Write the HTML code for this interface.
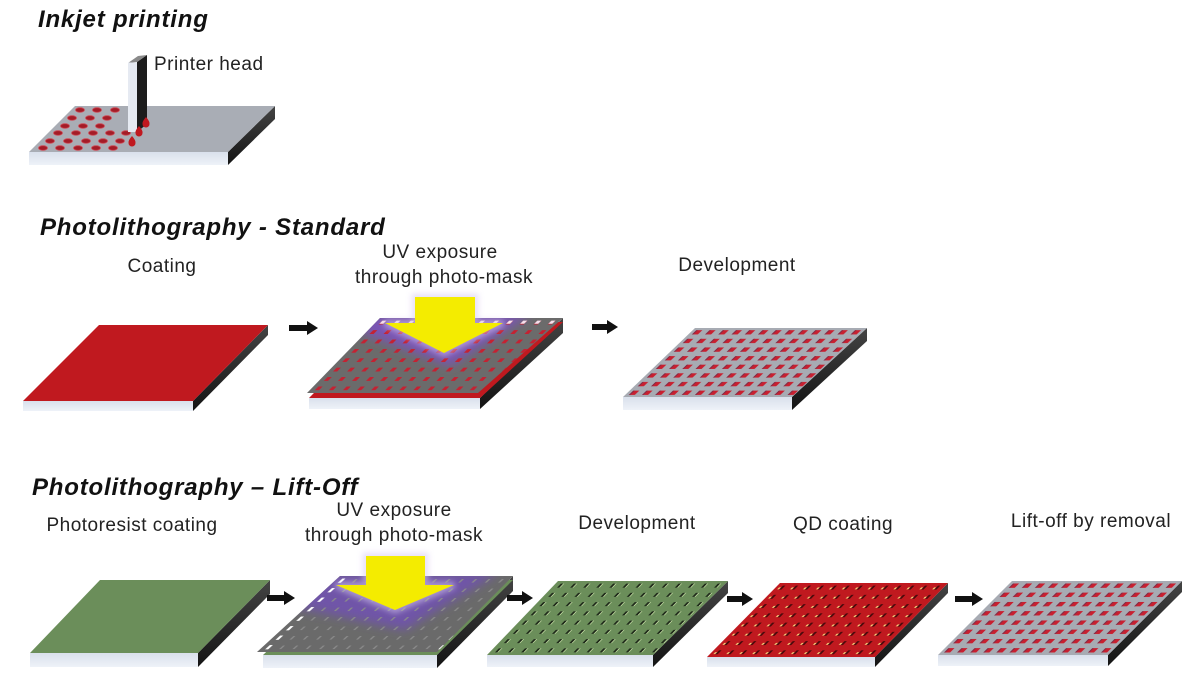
<!DOCTYPE html>
<html><head><meta charset="utf-8"><style>
html,body{margin:0;padding:0;background:#fff;}
svg{display:block;}
.h{font-family:"Liberation Sans",Arial,sans-serif;font-weight:bold;font-style:italic;font-size:24px;letter-spacing:0.8px;fill:#111;}
.l{font-family:"Liberation Sans",Arial,sans-serif;font-size:19px;letter-spacing:0.5px;fill:#222;}
</style></head><body>
<svg width="1200" height="676" viewBox="0 0 1200 676" xmlns="http://www.w3.org/2000/svg">
<defs>
<linearGradient id="side" x1="0" y1="0" x2="0" y2="1"><stop offset="0" stop-color="#444"/><stop offset="1" stop-color="#141414"/></linearGradient>
<linearGradient id="front" x1="0" y1="0" x2="0" y2="1"><stop offset="0" stop-color="#d9e0ec"/><stop offset="1" stop-color="#eef2f8"/></linearGradient>
<filter id="blur5" x="-50%" y="-50%" width="200%" height="200%"><feGaussianBlur stdDeviation="5"/></filter>
<filter id="blur3" x="-50%" y="-50%" width="200%" height="200%"><feGaussianBlur stdDeviation="3"/></filter>
<clipPath id="cStd"><polygon points="380,318 563,318 478,393 307,393"/></clipPath>
<clipPath id="cLo"><polygon points="340,576 513,576 437,652 257,652"/></clipPath>

<pattern id="pStdMask" patternUnits="userSpaceOnUse" x="0" y="0" width="14.08" height="9.375" patternTransform="translate(380,318) skewX(-44.2)">
<rect x="5" y="2.8" width="4.2" height="3.8" fill="#c42232"/></pattern>
<pattern id="pStdMaskTop" patternUnits="userSpaceOnUse" x="0" y="0" width="14.08" height="75" patternTransform="translate(380,318) skewX(-44.2)">
<rect x="5" y="2.6" width="4" height="3.2" fill="#f3e2ee"/></pattern>

<pattern id="pStdDev" patternUnits="userSpaceOnUse" x="0" y="0" width="13.23" height="8.625" patternTransform="translate(695,328) skewX(-46.2)">
<rect x="3.6" y="2.2" width="6" height="4.3" fill="#c82030"/><rect x="3.6" y="2.2" width="1.4" height="4.3" fill="#7e2c48"/></pattern>

<pattern id="pLoMask" patternUnits="userSpaceOnUse" x="0" y="0" width="13.3" height="9.5" patternTransform="translate(340,576) skewX(-47.5)">
<rect x="5.6" y="3" width="2" height="3.6" fill="#8a8a8a"/></pattern>
<pattern id="pLoMaskLeft" patternUnits="userSpaceOnUse" x="0" y="0" width="173" height="9.5" patternTransform="translate(340,576) skewX(-47.5)">
<rect x="5.2" y="2.6" width="3" height="4.2" fill="#ffffff"/></pattern>

<pattern id="pLoDev" patternUnits="userSpaceOnUse" x="0" y="0" width="13.08" height="9.25" patternTransform="translate(558,581) skewX(-43.8)">
<rect x="5.4" y="2.6" width="2.4" height="4" fill="#1f2a1a"/><rect x="7.8" y="2.6" width="1" height="4" fill="#c4dca4"/></pattern>

<pattern id="pQD" patternUnits="userSpaceOnUse" x="0" y="0" width="12.92" height="9.25" patternTransform="translate(780,583) skewX(-44.6)">
<rect x="5.5" y="2.6" width="2.4" height="4" fill="#4a0a0c"/><rect x="3.4" y="4.4" width="1.9" height="1.9" fill="#f4d27a"/></pattern>

<pattern id="pLoFin" patternUnits="userSpaceOnUse" x="0" y="0" width="13.08" height="9.25" patternTransform="translate(1012,581) skewX(-45)">
<rect x="3.6" y="2.4" width="6" height="4.4" fill="#c82030"/><rect x="3.6" y="2.4" width="1.4" height="4.4" fill="#7e2c48"/></pattern>
</defs>

<!-- Headings -->
<text class="h" x="38" y="27">Inkjet printing</text>
<text class="h" x="40" y="235">Photolithography - Standard</text>
<text class="h" x="32" y="495">Photolithography – Lift-Off</text>

<!-- ===== Inkjet ===== -->
<polygon points="275,106 275,119 228,165 228,152" fill="url(#side)"/>
<polygon points="29,152 228,152 228,165 29,165" fill="url(#front)"/>
<polygon points="75,106 275,106 228,152 29,152" fill="#a9adb5"/>
<g fill="#a41c27" stroke="#cf4a56" stroke-width="0.8">
<ellipse cx="80" cy="110" rx="4.5" ry="2.3"/><ellipse cx="97" cy="110" rx="4.5" ry="2.3"/><ellipse cx="115" cy="110" rx="4.5" ry="2.3"/>
<ellipse cx="72" cy="118" rx="4.5" ry="2.3"/><ellipse cx="90" cy="118" rx="4.5" ry="2.3"/><ellipse cx="107" cy="118" rx="4.5" ry="2.3"/>
<ellipse cx="65" cy="126" rx="4.5" ry="2.3"/><ellipse cx="83" cy="126" rx="4.5" ry="2.3"/><ellipse cx="100" cy="126" rx="4.5" ry="2.3"/>
<ellipse cx="58" cy="133" rx="4.5" ry="2.3"/><ellipse cx="76" cy="133" rx="4.5" ry="2.3"/><ellipse cx="93" cy="133" rx="4.5" ry="2.3"/><ellipse cx="110" cy="133" rx="4.5" ry="2.3"/><ellipse cx="126" cy="133" rx="4.5" ry="2.3"/>
<ellipse cx="50" cy="141" rx="4.5" ry="2.3"/><ellipse cx="68" cy="141" rx="4.5" ry="2.3"/><ellipse cx="86" cy="141" rx="4.5" ry="2.3"/><ellipse cx="103" cy="141" rx="4.5" ry="2.3"/><ellipse cx="120" cy="141" rx="4.5" ry="2.3"/>
<ellipse cx="43" cy="148" rx="4.5" ry="2.3"/><ellipse cx="60" cy="148" rx="4.5" ry="2.3"/><ellipse cx="78" cy="148" rx="4.5" ry="2.3"/><ellipse cx="96" cy="148" rx="4.5" ry="2.3"/><ellipse cx="113" cy="148" rx="4.5" ry="2.3"/>
</g>
<!-- printer head -->
<polygon points="137,62 147,55 147,124 137,132" fill="#1c1c1c"/>
<polygon points="128,63 138,56 147,55 137,62" fill="#8a8a8a"/>
<rect x="128" y="62.5" width="9" height="69.5" fill="#e6eaf2"/>
<g fill="#c0181f">
<path d="M132,136 q4,4.5 3.5,7 a3.5,3.5 0 0 1 -7,0 q-0.5,-2.5 3.5,-7z"/>
<path d="M139,126 q4,4.5 3.5,7 a3.5,3.5 0 0 1 -7,0 q-0.5,-2.5 3.5,-7z"/>
<path d="M146,117 q4,4.5 3.5,7 a3.5,3.5 0 0 1 -7,0 q-0.5,-2.5 3.5,-7z"/>
</g>
<text class="l" x="154" y="70">Printer head</text>

<!-- ===== Standard ===== -->
<text class="l" x="162" y="272" text-anchor="middle">Coating</text>
<text class="l" x="440" y="258" text-anchor="middle">UV exposure</text>
<text class="l" x="444" y="283" text-anchor="middle">through photo-mask</text>
<text class="l" x="737" y="271" text-anchor="middle">Development</text>

<!-- coating plate -->
<polygon points="268,325 268,335 193,411 193,401" fill="url(#side)"/>
<polygon points="23,401 193,401 193,411 23,411" fill="url(#front)"/>
<polygon points="99,325 268,325 193,401 23,401" fill="#c0191f"/>

<!-- UV plate -->
<polygon points="563,318 563,333 480,409 480,398" fill="url(#side)"/>
<polygon points="309,398 480,398 480,409 309,409" fill="url(#front)"/>
<polygon points="384,322 563,322 480,398 309,398" fill="#c0191f"/>
<polygon points="380,318 563,318 478,393 307,393" fill="#6b6b6b"/>
<g clip-path="url(#cStd)"><polygon points="372,314 532,314 450,366 360,332" fill="#7a55b5" filter="url(#blur5)"/></g>
<polygon points="380,318 563,318 478,393 307,393" fill="url(#pStdMask)"/>
<polygon points="380,318 563,318 478,393 307,393" fill="url(#pStdMaskTop)"/>
<polygon points="415,297 475,297 475,323 503,323 444,353 385,323 415,323" fill="#d6c8f2" stroke="#d6c8f2" stroke-width="7" opacity="0.55" filter="url(#blur3)"/>
<polygon points="415,297 475,297 475,323 503,323 444,353 385,323 415,323" fill="#f4ec00"/>

<!-- dev plate -->
<polygon points="867,328 867,341 792,410 792,397" fill="url(#side)"/>
<polygon points="623,397 792,397 792,410 623,410" fill="url(#front)"/>
<polygon points="695,328 867,328 792,397 623,397" fill="#a7abb3"/>
<polygon points="695,328 867,328 792,397 623,397" fill="url(#pStdDev)"/>

<!-- arrows standard -->
<g fill="#111">
<polygon points="289,325 307,325 307,321 318,328 307,335 307,331 289,331"/>
<polygon points="592,324 607,324 607,320 618,327 607,334 607,330 592,330"/>
</g>

<!-- ===== Lift-off ===== -->
<text class="l" x="132" y="531" text-anchor="middle">Photoresist coating</text>
<text class="l" x="394" y="516" text-anchor="middle">UV exposure</text>
<text class="l" x="394" y="541" text-anchor="middle">through photo-mask</text>
<text class="l" x="637" y="529" text-anchor="middle">Development</text>
<text class="l" x="843" y="530" text-anchor="middle">QD coating</text>
<text class="l" x="1091" y="527" text-anchor="middle">Lift-off by removal</text>

<!-- green coat -->
<polygon points="270,580 270,594 198,667 198,653" fill="url(#side)"/>
<polygon points="30,653 198,653 198,667 30,667" fill="url(#front)"/>
<polygon points="100,580 270,580 198,653 30,653" fill="#6b8e5a"/>

<!-- UV lift-off -->
<polygon points="513,576 513,591 437,668 437,655" fill="url(#side)"/>
<polygon points="263,655 437,655 437,668 263,668" fill="url(#front)"/>
<polygon points="343,580 513,580 437,655 263,655" fill="#6b8e5a"/>
<polygon points="340,576 513,576 437,652 257,652" fill="#6a6a6a"/>
<g clip-path="url(#cLo)"><polygon points="318,572 500,572 405,630 290,606" fill="#6f55a8" filter="url(#blur5)"/></g>
<polygon points="340,576 513,576 437,652 257,652" fill="url(#pLoMask)"/>
<polygon points="340,576 513,576 437,652 257,652" fill="url(#pLoMaskLeft)"/>
<polygon points="366,556 425,556 425,585 454,585 395,610 336,585 366,585" fill="#d6c8f2" stroke="#d6c8f2" stroke-width="7" opacity="0.55" filter="url(#blur3)"/>
<polygon points="366,556 425,556 425,585 454,585 395,610 336,585 366,585" fill="#f4ec00"/>

<!-- dev green -->
<polygon points="728,581 728,593 653,667 653,655" fill="url(#side)"/>
<polygon points="487,655 653,655 653,667 487,667" fill="url(#front)"/>
<polygon points="558,581 728,581 653,655 487,655" fill="#6b8e5a"/>
<polygon points="558,581 728,581 653,655 487,655" fill="url(#pLoDev)"/>

<!-- QD -->
<polygon points="948,583 948,593 875,667 875,657" fill="url(#side)"/>
<polygon points="707,657 875,657 875,667 707,667" fill="url(#front)"/>
<polygon points="780,583 948,583 875,657 707,657" fill="#c0191f"/>
<polygon points="780,583 948,583 875,657 707,657" fill="url(#pQD)"/>

<!-- final -->
<polygon points="1182,581 1182,592 1108,666 1108,655" fill="url(#side)"/>
<polygon points="938,655 1108,655 1108,666 938,666" fill="url(#front)"/>
<polygon points="1012,581 1182,581 1108,655 938,655" fill="#a7abb3"/>
<polygon points="1012,581 1182,581 1108,655 938,655" fill="url(#pLoFin)"/>

<!-- arrows lift-off -->
<g fill="#111">
<polygon points="267,595 284,595 284,591 295,598 284,605 284,601 267,601"/>
<polygon points="507,595 522,595 522,591 533,598 522,605 522,601 507,601"/>
<polygon points="727,596 742,596 742,592 753,599 742,606 742,602 727,602"/>
<polygon points="955,596 972,596 972,592 983,599 972,606 972,602 955,602"/>
</g>
</svg>
</body></html>
